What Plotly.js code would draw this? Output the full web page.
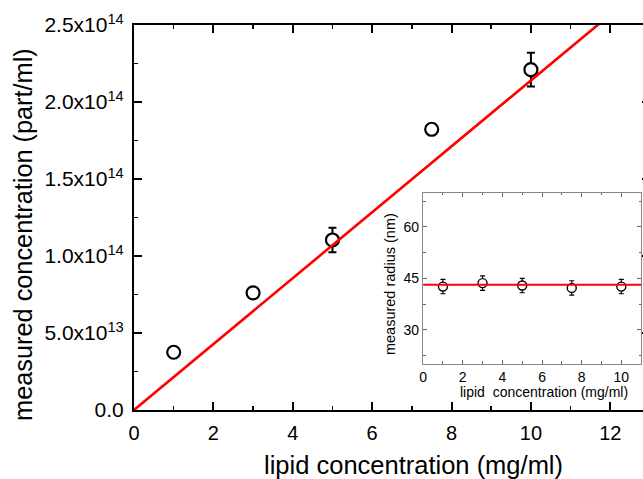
<!DOCTYPE html>
<html>
<head>
<meta charset="utf-8">
<script src="https://cdn.plot.ly/plotly-3.0.1.min.js"></script>
<style>
html,body{margin:0;padding:0;overflow:hidden;background:#fff;}
#chart{width:660px;height:479px;}
</style>
</head>
<body>
<div id="chart"></div>
<script>
// Main panel data
const lipidConc = [1, 3, 5, 7.5, 10];
const measuredConc = [0.375e14, 0.761e14, 1.104e14, 1.823e14, 2.21e14];
const measuredConcErr = [0.012e14, 0.012e14, 0.079e14, 0.02e14, 0.11e14];
const fitSlope = 2.14e13;          // linear fit through origin
const fitX = [0, 13];

// Inset data
const insetConc = [1, 3, 5, 7.5, 10];
const insetRadius = [42.6, 43.6, 42.9, 42.2, 42.6];
const insetRadiusErr = [2.1, 2.1, 2.1, 2.1, 2.1];
const insetFitRadius = 43.1;
const insetFitX = [0, 11];

// Tick labels
const yTickVals = [0, 0.5e14, 1.0e14, 1.5e14, 2.0e14, 2.5e14];
const yTickText = ['0.0', '5.0x10<sup>13</sup>', '1.0x10<sup>14</sup>', '1.5x10<sup>14</sup>', '2.0x10<sup>14</sup>', '2.5x10<sup>14</sup>'];

const FONT = 'Liberation Sans, Arial, sans-serif';

const traces = [
  {
    x: lipidConc, y: measuredConc, type: 'scatter', mode: 'markers',
    marker: {symbol: 'circle', size: 13, color: '#ffffff', line: {color: '#000', width: 2.2}},
    error_y: {type: 'data', array: measuredConcErr, visible: true, color: '#000', thickness: 2, width: 4},
    xaxis: 'x', yaxis: 'y', showlegend: false, cliponaxis: false
  },
  {
    x: fitX, y: fitX.map(v => v * fitSlope), type: 'scatter', mode: 'lines',
    line: {color: '#ff0000', width: 2.6}, xaxis: 'x', yaxis: 'y', showlegend: false
  },
  {
    x: insetConc, y: insetRadius, type: 'scatter', mode: 'markers',
    marker: {symbol: 'circle', size: 9, color: '#ffffff', line: {color: '#000', width: 1.4}},
    error_y: {type: 'data', array: insetRadiusErr, visible: true, color: '#000', thickness: 1.2, width: 2.5},
    xaxis: 'x2', yaxis: 'y2', showlegend: false
  },
  {
    x: insetFitX, y: insetFitX.map(() => insetFitRadius), type: 'scatter', mode: 'lines',
    line: {color: '#ff0000', width: 2}, xaxis: 'x2', yaxis: 'y2', showlegend: false
  }
];

const layout = {
  width: 660, height: 479,
  margin: {l: 134, r: 10, t: 25, b: 69},
  paper_bgcolor: '#fff', plot_bgcolor: 'rgba(0,0,0,0)',
  font: {family: FONT, color: '#000'},
  xaxis: {
    range: [0, 13], domain: [0, 1], anchor: 'y',
    showgrid: false, zeroline: false,
    showline: true, linecolor: '#000', linewidth: 2, mirror: 'ticks',
    ticks: 'inside', ticklen: 8, tickwidth: 2, tickcolor: '#000',
    tickvals: [0, 2, 4, 6, 8, 10, 12],
    ticktext: ['0', '2', '4', '6', '8', '10', '12'],
    minor: {ticks: 'inside', ticklen: 4, tickwidth: 1.5, tickcolor: '#000', tickvals: [1, 3, 5, 7, 9, 11]},
    tickfont: {size: 20, family: FONT},
    ticklabelstandoff: 4
  },
  yaxis: {
    range: [0, 2.5e14], domain: [0, 1], anchor: 'x',
    showgrid: false, zeroline: false,
    showline: true, linecolor: '#000', linewidth: 2, mirror: 'ticks',
    ticks: 'inside', ticklen: 8, tickwidth: 2, tickcolor: '#000',
    tickvals: yTickVals, ticktext: yTickText,
    minor: {ticks: 'inside', ticklen: 4, tickwidth: 1.5, tickcolor: '#000', tickvals: [0.25e14, 0.75e14, 1.25e14, 1.75e14, 2.25e14]},
    tickfont: {size: 21, family: FONT},
    ticklabelstandoff: 4
  },
  xaxis2: {
    range: [0, 11], domain: [0.5603, 0.9828], anchor: 'y2',
    showgrid: false, zeroline: false,
    showline: true, linecolor: '#888', linewidth: 1.2, mirror: 'ticks',
    ticks: 'inside', ticklen: 4, tickwidth: 1, tickcolor: '#666',
    tickvals: [0, 2, 4, 6, 8, 10],
    ticktext: ['0', '2', '4', '6', '8', '10'],
    minor: {ticks: 'inside', ticklen: 2.5, tickwidth: 1, tickcolor: '#666', tickvals: [1, 3, 5, 7, 9]},
    tickfont: {size: 14, family: FONT},
    ticklabelstandoff: 0
  },
  yaxis2: {
    range: [20, 70], domain: [0.1195, 0.5644], anchor: 'x2',
    showgrid: false, zeroline: false,
    showline: true, linecolor: '#888', linewidth: 1.2, mirror: 'ticks',
    ticks: 'inside', ticklen: 4, tickwidth: 1, tickcolor: '#666',
    tickvals: [30, 45, 60], ticktext: ['30', '45', '60'],
    minor: {ticks: 'inside', ticklen: 2.5, tickwidth: 1, tickcolor: '#666', tickvals: [22.5, 37.5, 52.5, 67.5]},
    tickfont: {size: 14, family: FONT},
    ticklabelstandoff: 0
  },
  annotations: [
    {text: 'lipid concentration (mg/ml)', xref: 'paper', yref: 'paper',
     x: 0.5415, y: -0.143, xanchor: 'center', yanchor: 'middle', showarrow: false,
     font: {size: 25.5, family: FONT}},
    {text: 'measured concentration (part/ml)', xref: 'paper', yref: 'paper',
     x: -0.215, y: 0.455, xanchor: 'center', yanchor: 'middle', showarrow: false, textangle: -90,
     font: {size: 25.3, family: FONT}},
    {text: 'lipid&nbsp; concentration (mg/ml)', xref: 'paper', yref: 'paper',
     x: 0.7955, y: 0.0475, xanchor: 'center', yanchor: 'middle', showarrow: false,
     font: {size: 14, family: FONT}},
    {text: 'measured radius (nm)', xref: 'paper', yref: 'paper',
     x: 0.496, y: 0.327, xanchor: 'center', yanchor: 'middle', showarrow: false, textangle: -90,
     font: {size: 14.5, family: FONT}}
  ]
};

Plotly.newPlot('chart', traces, layout, {displayModeBar: false, staticPlot: true});
</script>
</body>
</html>
